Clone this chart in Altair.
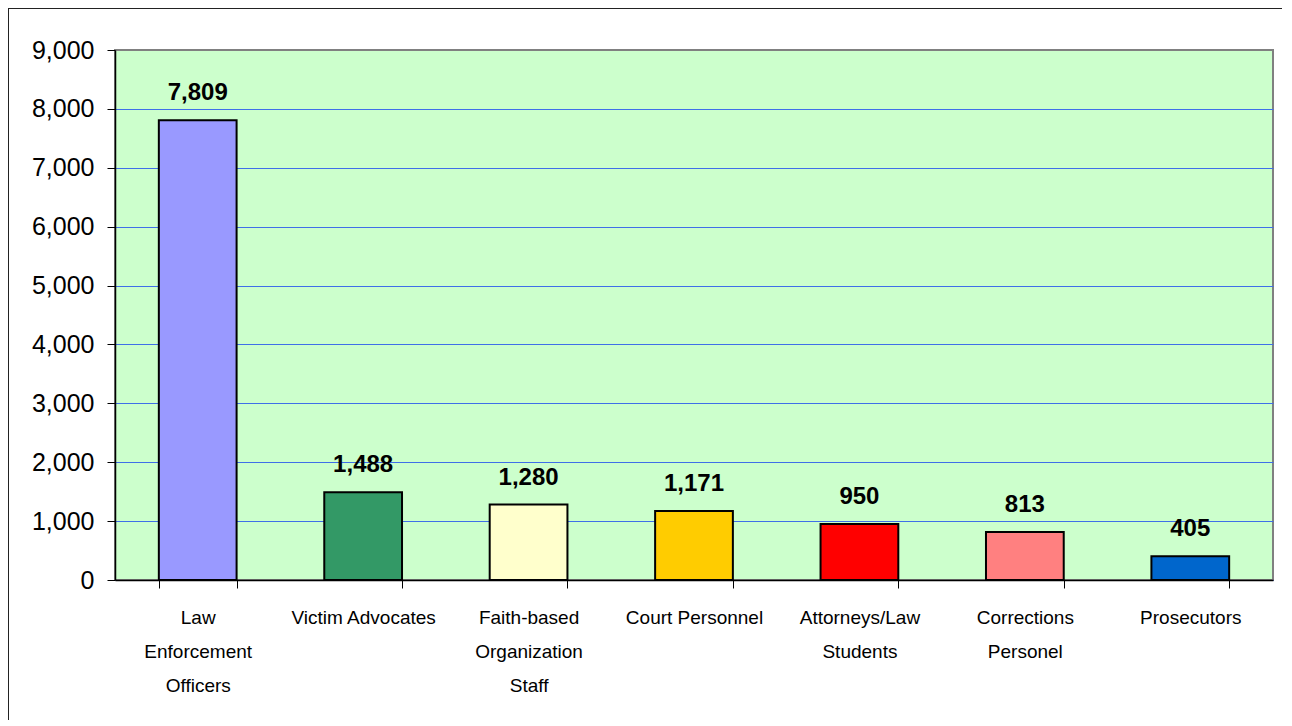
import altair as alt
import pandas as pd

categories = [
    "Law\nEnforcement\nOfficers",
    "Victim Advocates",
    "Faith-based\nOrganization\nStaff",
    "Court Personnel",
    "Attorneys/Law\nStudents",
    "Corrections\nPersonel",
    "Prosecutors",
]
values = [7809, 1488, 1280, 1171, 950, 813, 405]
colors = ["#9999FF", "#339966", "#FFFFCC", "#FFCC00", "#FF0000", "#FF8080", "#0066CC"]
y_ticks = [0, 1000, 2000, 3000, 4000, 5000, 6000, 7000, 8000, 9000]

df = pd.DataFrame({"cat": categories, "val": values, "color": colors})

W, H = 1158, 530

x = alt.X(
    "cat:N",
    sort=categories,
    scale=alt.Scale(paddingInner=0.53, paddingOuter=0.265),
    axis=alt.Axis(
        title=None,
        labelAngle=0,
        labelExpr="split(datum.label, '\\n')",
        labelFont="Liberation Sans",
        labelFontSize=19,
        labelColor="#000000",
        labelLineHeight=34,
        labelPadding=29,
        labelBaseline="middle",
        tickBand="extent",
        tickSize=8,
        tickColor="#000000",
        domainColor="#000000",
        domainWidth=1.5,
        grid=False,
    ),
)

y = alt.Y(
    "val:Q",
    scale=alt.Scale(domain=[0, 9000], nice=False),
    axis=alt.Axis(
        title=None,
        values=y_ticks,
        format=",d",
        labelFont="Liberation Sans",
        labelFontSize=25,
        labelColor="#000000",
        labelPadding=13,
        tickSize=8,
        tickColor="#000000",
        domainColor="#000000",
        domainWidth=1.5,
        gridColor=alt.condition("datum.value == 9000", alt.value("#808080"), alt.value("#3F6FE8")),
        gridWidth=1.2,
    ),
)

bars = alt.Chart(df).mark_bar(stroke="#000000", strokeWidth=2).encode(
    x=x,
    y=y,
    color=alt.Color("color:N", scale=None),
)

labels = alt.Chart(df).mark_text(
    font="Liberation Sans",
    fontSize=24,
    fontWeight="bold",
    color="#000000",
    baseline="middle",
    dy=-27,
).encode(
    x=alt.X("cat:N", sort=categories),
    y=alt.Y("val:Q"),
    text=alt.Text("val:Q", format=",d"),
)

border = alt.Chart(df).mark_rect(
    fill=None, stroke="#222222", strokeWidth=2
).encode(
    x=alt.value(-107), x2=alt.value(1300),
    y=alt.value(-42), y2=alt.value(800),
)

chart = alt.layer(bars, labels, border).properties(
    width=W, height=H,
    padding={"left": 107, "top": 42, "right": 9, "bottom": 140},
    autosize=alt.AutoSizeParams(type="none"),
).configure(
    background="#FFFFFF",
    view=alt.ViewConfig(fill="#CCFFCC", stroke="#808080", strokeWidth=2),
)

chart.save("out.html", embed_options={"renderer": "svg", "actions": False})
